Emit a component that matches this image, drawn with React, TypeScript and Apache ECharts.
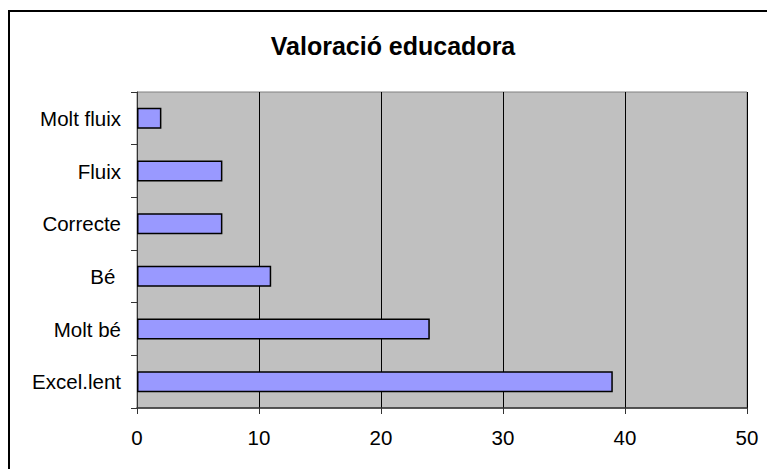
import React, { useEffect, useRef } from "react";
import * as echarts from "echarts";

const categories = ["Excel.lent", "Molt bé", "Bé ", "Correcte", "Fluix", "Molt fluix"];
const values = [39, 24, 11, 7, 7, 2];
const titleText = "Valoració educadora";
const xMin = 0;
const xMax = 50;
const xInterval = 10;

export default function App() {
  const ref = useRef<HTMLDivElement>(null);
  useEffect(() => {
    if (!ref.current) return;
    const chart = echarts.init(ref.current, null, { renderer: "svg" });
    chart.setOption({
      animation: false,
      backgroundColor: "#ffffff",
      textStyle: { fontFamily: "Liberation Sans, Arial, sans-serif" },
      graphic: [
        {
          type: "rect",
          shape: { x: 9, y: 11, width: 820, height: 520 },
          style: { fill: "none", stroke: "#000", lineWidth: 2 },
          silent: true,
          z: -1,
        },
        {
          type: "text",
          x: 393,
          y: 46,
          style: {
            text: titleText,
            font: "bold 25px 'Liberation Sans', Arial, sans-serif",
            fill: "#000",
            align: "center",
            verticalAlign: "middle",
          },
        },
      ],
      grid: {
        left: 137,
        top: 92,
        right: 20,
        bottom: 61,
        show: true,
        backgroundColor: "#c0c0c0",
        borderColor: "#808080",
        borderWidth: 1,
      },
      xAxis: {
        type: "value",
        min: xMin,
        max: xMax,
        interval: xInterval,
        axisLine: { show: true, lineStyle: { color: "#333", width: 1.5 } },
        axisTick: { show: true, length: 6, lineStyle: { color: "#333" } },
        axisLabel: { fontSize: 20.5, color: "#000", margin: 19, fontFamily: "Liberation Sans, Arial, sans-serif" },
        splitLine: { show: true, lineStyle: { color: "#000", width: 1 } },
      },
      yAxis: {
        type: "category",
        data: categories,
        axisLine: { show: true, onZero: false, lineStyle: { color: "#333", width: 1 } },
        axisTick: { show: true, length: 6, lineStyle: { color: "#333" } },
        axisLabel: { fontSize: 20.5, color: "#000", margin: 16, fontFamily: "Liberation Sans, Arial, sans-serif" },
        splitLine: { show: false },
      },
      series: [
        {
          type: "bar",
          data: values,
          barWidth: 21,
          itemStyle: { color: "#9999ff", borderColor: "#000", borderWidth: 1.5 },
        },
      ],
    });
    return () => chart.dispose();
  }, []);
  return (
    <div
      ref={ref}
      style={{ position: "absolute", left: 0, top: 0, width: 767, height: 469 }}
    />
  );
}
